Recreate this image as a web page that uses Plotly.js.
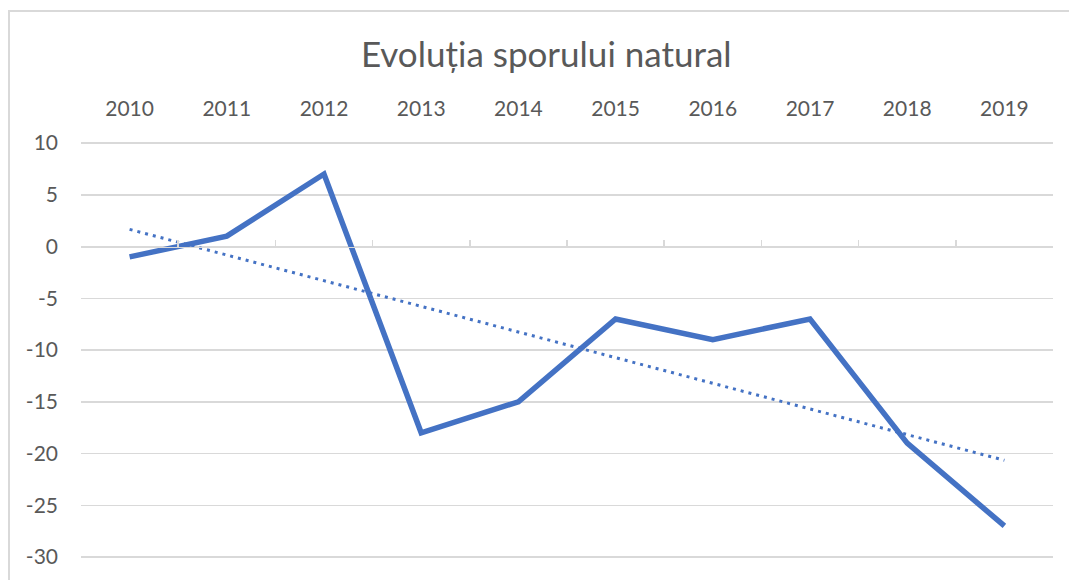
<!DOCTYPE html>
<html>
<head>
<meta charset="utf-8">
<script src="https://cdn.plot.ly/plotly-3.0.1.min.js"></script>
<style>
  html, body { margin: 0; padding: 0; background: #fff; overflow: hidden; }
  #frame { position: absolute; left: 8px; top: 10px; width: 1200px; height: 700px;
           border-left: 2px solid #d9d9d9; border-top: 2px solid #d9d9d9; }
  #chart { position: absolute; left: 0; top: 0; width: 1069px; height: 580px; }
</style>
</head>
<body>
<div id="frame"></div>
<div id="chart"></div>
<script>
const years = ['2010','2011','2012','2013','2014','2015','2016','2017','2018','2019'];
const sporNatural = [-1, 1, 7, -18, -15, -7, -9, -7, -19, -27];
const yTicks = [10, 5, 0, -5, -10, -15, -20, -25, -30];
const chartTitle = 'Evoluția sporului natural';

// Linear trendline (least squares), as Excel computes it
const n = sporNatural.length;
const xs = sporNatural.map((_, i) => i + 1);
const mx = xs.reduce((a, b) => a + b, 0) / n;
const my = sporNatural.reduce((a, b) => a + b, 0) / n;
let sxy = 0, sxx = 0;
for (let i = 0; i < n; i++) { sxy += (xs[i] - mx) * (sporNatural[i] - my); sxx += (xs[i] - mx) ** 2; }
const slope = sxy / sxx;
const trend = xs.map(x => my + slope * (x - mx));

const blue = '#4472C4';
const grey = '#595959';
const font = 'Lato, "Open Sans", sans-serif';

const traces = [
  { x: years, y: sporNatural, type: 'scatter', mode: 'lines', xaxis: 'x', yaxis: 'y',
    line: { color: blue, width: 5.5 }, hoverinfo: 'x+y', showlegend: false },
  { x: years, y: trend, type: 'scatter', mode: 'lines', xaxis: 'x2', yaxis: 'y',
    line: { color: blue, width: 3, dash: '3px,5px' }, hoverinfo: 'skip', showlegend: false }
];

const layout = {
  width: 1069, height: 580,
  margin: { l: 81, r: 16, t: 140, b: 20 },
  paper_bgcolor: 'rgba(0,0,0,0)', plot_bgcolor: 'rgba(0,0,0,0)',
  font: { family: font, color: grey, size: 21, weight: 400 },
  title: { text: chartTitle, font: { family: font, size: 35, color: grey, weight: 400 },
           x: 0.511, xanchor: 'center', y: 0.905, yanchor: 'middle' },
  xaxis: { type: 'category', side: 'top', showgrid: false, zeroline: false, showline: false,
           ticks: '', ticklabelstandoff: 19, tickfont: { size: 21, color: grey, weight: 400 },
           range: [-0.5, 9.5], fixedrange: true },
  xaxis2: { type: 'category', overlaying: 'x', anchor: 'free', position: 30.29 / 40.58, side: 'bottom',
            range: [-0.5, 9.5], showgrid: false, zeroline: false,
            showline: true, linecolor: '#d9d9d9', linewidth: 1.5,
            tickson: 'boundaries', ticks: 'inside', ticklen: 7, tickwidth: 1.5, tickcolor: '#d9d9d9',
            showticklabels: false, fixedrange: true },
  yaxis: { range: [-30.29, 10.29], tickvals: yTicks, ticktext: yTicks.map(String),
           showgrid: true, gridcolor: '#d9d9d9', gridwidth: 1.5, zeroline: false,
           showline: false, ticks: '', ticklabelstandoff: 22,
           tickfont: { size: 21, color: grey, weight: 400 }, fixedrange: true }
};

Plotly.newPlot('chart', traces, layout, { displayModeBar: false, staticPlot: true });
</script>
</body>
</html>
